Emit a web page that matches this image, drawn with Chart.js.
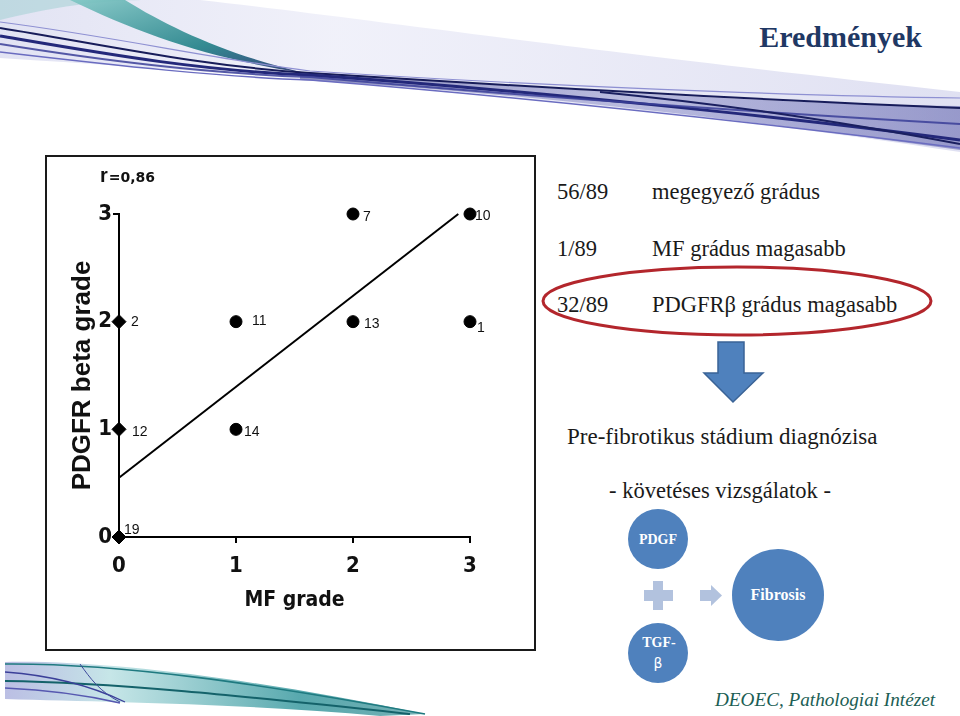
<!DOCTYPE html>
<html lang="hu">
<head>
  <meta charset="UTF-8" />
  <title>Eredmények</title>
  <script src="https://cdn.jsdelivr.net/npm/chart.js"></script>
  <style>
    html, body {
      margin: 0;
      padding: 0;
      background: #fff;
    }
    body {
      position: relative;
      width: 960px;
      height: 716px;
      overflow: hidden;
      font-family: 'Liberation Serif', 'DejaVu Serif', serif;
    }
    .deco {
      position: absolute;
      left: 0;
      top: 0;
    }
    .chart-frame {
      position: absolute;
      left: 45px;
      top: 155px;
      width: 487px;
      height: 492px;
      border: 2px solid #1a1a1a;
    }
    #corrChart {
      position: absolute;
      left: 46px;
      top: 156px;
    }
  </style>
</head>
<body>
  <!-- háttér díszítés + jobb oldali szöveg -->
  <svg class="deco" width="960" height="716" viewBox="0 0 960 716">
    <defs>
      <linearGradient id="haze" x1="0" y1="0" x2="1" y2="0">
        <stop offset="0" stop-color="#9fa3d8" stop-opacity="0.55" />
        <stop offset="0.35" stop-color="#c4c6ea" stop-opacity="0.45" />
        <stop offset="1" stop-color="#8d90d0" stop-opacity="0.5" />
      </linearGradient>
      <linearGradient id="tealStreak" x1="0" y1="0" x2="1" y2="1">
        <stop offset="0" stop-color="#7fc7c4" />
        <stop offset="0.6" stop-color="#1f7f86" />
        <stop offset="1" stop-color="#23306e" />
      </linearGradient>
      <linearGradient id="band" x1="0" y1="0" x2="1" y2="0">
        <stop offset="0" stop-color="#2a2f82" stop-opacity="0.9" />
        <stop offset="0.5" stop-color="#4b4fa8" stop-opacity="0.55" />
        <stop offset="1" stop-color="#3b3f99" stop-opacity="0.8" />
      </linearGradient>
      <linearGradient id="bottomBand" x1="0" y1="0" x2="1" y2="0">
        <stop offset="0" stop-color="#9ea3d8" stop-opacity="0.7" />
        <stop offset="0.25" stop-color="#b8e0e2" stop-opacity="0.8" />
        <stop offset="0.7" stop-color="#3b9aa0" stop-opacity="0.85" />
        <stop offset="1" stop-color="#1d7f86" stop-opacity="0.6" />
      </linearGradient>
    </defs>

    <!-- felső csík -->
    <path d="M0,0 L200,0 C360,18 560,48 960,92 L960,152 C700,112 420,84 0,58 Z" fill="url(#haze)" opacity="0.55" />
    <path d="M0,20 C80,0 130,0 150,0 L0,0 Z" fill="#a9d2d6" opacity="0.6" />
    <path d="M70,0 L125,0 C170,28 228,55 305,73 C215,60 140,34 70,0 Z" fill="url(#tealStreak)" opacity="0.9" />
    <path d="M300,72 C520,86 760,104 960,106 L960,150 C760,122 520,92 300,80 Z" fill="url(#band)" opacity="0.55" />
    <path d="M0,28 C100,44 200,66 310,73 C500,85 760,100 960,108" fill="none" stroke="#171c5a" stroke-width="2" />
    <path d="M0,36 C100,53 200,71 310,75 C520,90 780,116 960,140" fill="none" stroke="#23287a" stroke-width="3" />
    <path d="M0,44 C100,60 200,73 310,77 C500,94 720,110 960,124" fill="none" stroke="#3a3e98" stroke-width="2" opacity="0.85" />
    <path d="M0,52 C120,66 220,77 310,80 C560,100 800,128 960,148" fill="none" stroke="#6a6cc0" stroke-width="1.5" />
    <path d="M0,22 C110,36 220,60 310,71 C540,86 800,96 960,98" fill="none" stroke="#8e90d2" stroke-width="1.2" />
    <path d="M600,92 C720,104 820,118 960,144" fill="none" stroke="#1a1f60" stroke-width="2" />

    <!-- alsó csík -->
    <path d="M5,662 C110,660 260,680 425,714 L380,716 C250,704 110,702 5,699 Z" fill="url(#bottomBand)" />
    <path d="M5,664 C120,663 262,684 425,714" fill="none" stroke="#1f7a80" stroke-width="1.6" />
    <path d="M5,681 C110,682 250,697 410,714" fill="none" stroke="#14626a" stroke-width="2" />
    <path d="M5,672 C60,676 100,690 125,702" fill="none" stroke="#3b3f99" stroke-width="1.3" />
    <path d="M5,688 C50,690 90,696 120,703" fill="none" stroke="#5658b0" stroke-width="1.3" />
    <path d="M80,664 C90,678 100,692 120,702" fill="none" stroke="#3e4a9c" stroke-width="1" />

    <!-- cím -->
    <text x="922" y="47" text-anchor="end" font-family="'Liberation Serif', 'DejaVu Serif', serif" font-weight="bold" font-size="30" fill="#1f3864">Eredmények</text>

    <!-- jobb oldali szöveg -->
    <g font-family="'Liberation Serif', 'DejaVu Serif', serif" font-size="22.5" fill="#1a1a1a">
      <text x="557" y="199">56/89</text>
      <text x="652" y="199">megegyező grádus</text>
      <text x="557" y="256">1/89</text>
      <text x="652" y="256">MF grádus magasabb</text>
      <text x="557" y="312">32/89</text>
      <text x="652" y="312">PDGFRβ grádus magasabb</text>
      <text x="567" y="444" font-size="23">Pre-fibrotikus stádium diagnózisa</text>
      <text x="720" y="498" text-anchor="middle">- követéses vizsgálatok -</text>
    </g>
    <ellipse cx="737" cy="301" rx="194" ry="34" fill="none" stroke="#b3262c" stroke-width="3" />
    <polygon points="718,342 744,342 744,373 763,373 733,402 704,373 718,373" fill="#4f81bd" stroke="#3a6396" stroke-width="1.5" />

    <!-- kördiagram -->
    <circle cx="658" cy="539" r="30" fill="#4f81bd" />
    <circle cx="658" cy="653" r="30" fill="#4f81bd" />
    <circle cx="778" cy="595" r="46" fill="#4f81bd" />
    <rect x="653" y="581" width="10" height="29" fill="#b2c2de" />
    <rect x="644" y="590" width="29" height="11" fill="#b2c2de" />
    <rect x="700" y="590" width="11" height="11" fill="#b2c2de" />
    <polygon points="711,585 722,595.5 711,606" fill="#b2c2de" />
    <g font-family="'Liberation Serif', 'DejaVu Serif', serif" font-weight="bold" fill="#fff" text-anchor="middle">
      <text x="658" y="544" font-size="14">PDGF</text>
      <text x="778" y="600" font-size="16">Fibrosis</text>
      <text x="659" y="647" font-size="14">TGF-</text>
      <text x="658" y="668" font-size="14" font-weight="normal" font-family="'DejaVu Sans', sans-serif">β</text>
    </g>

    <text x="715" y="706" font-family="'Liberation Serif', 'DejaVu Serif', serif" font-style="italic" font-size="19" textLength="220" lengthAdjust="spacingAndGlyphs" fill="#1b5e54">DEOEC, Pathologiai Intézet</text>
  </svg>

  <div class="chart-frame"></div>
  <canvas id="corrChart" width="488" height="493"></canvas>

  <script>
    // MF grade vs PDGFR beta grade, esetek sorszámával
    const mfGrade = [0, 0, 0, 1, 1, 2, 2, 3, 3];
    const pdgfrGrade = [0, 1, 2, 1, 2, 2, 3, 2, 3];
    const caseIds = ['19', '12', '2', '14', '11', '13', '7', '1', '10'];

    // regressziós egyenes két végpontja
    const fitX = [0, 2.9];
    const fitY = [0.55, 3.0];

    const xTickValues = [0, 1, 2, 3];
    const yTickValues = [0, 1, 2, 3];
    const correlationText = '=0,86';

    // címkék eltolása a ponthoz képest (px)
    const labelNudge = {
      '19': [5, -7], '12': [13, 3], '2': [12, 0], '14': [8, 3], '11': [16, -1],
      '13': [11, 2], '7': [10, 3], '1': [7, 6], '10': [5, 2]
    };

    const tickFont = { family: '"Liberation Sans Narrow", "DejaVu Sans Condensed", Arial, sans-serif', size: 22, weight: 'bold' };

    const caseLabels = {
      id: 'caseLabels',
      afterDatasetsDraw(chart) {
        const ctx = chart.ctx;
        const meta = chart.getDatasetMeta(0);
        ctx.save();
        ctx.font = '14px Arial, "Liberation Sans", sans-serif';
        ctx.fillStyle = '#111';
        ctx.textBaseline = 'middle';
        ctx.textAlign = 'left';
        meta.data.forEach((pt, i) => {
          const nudge = labelNudge[caseIds[i]] || [10, 0];
          ctx.fillText(caseIds[i], pt.x + nudge[0], pt.y + nudge[1]);
        });

        // r=0,86 felirat a bal felső sarokban
        ctx.textBaseline = 'alphabetic';
        ctx.font = 'bold 20px Arial, "Liberation Sans", sans-serif';
        ctx.fillText('r', 54, 26);
        const rw = ctx.measureText('r').width;
        ctx.font = 'bold 14px "DejaVu Sans", Arial, sans-serif';
        ctx.fillText(correlationText, 54 + rw + 1, 26);
        ctx.restore();
      }
    };

    const ctx = document.getElementById('corrChart').getContext('2d');
    new Chart(ctx, {
      type: 'scatter',
      data: {
        datasets: [{
          data: mfGrade.map((x, i) => ({ x: x, y: pdgfrGrade[i] })),
          backgroundColor: '#000',
          borderColor: '#000',
          pointStyle: c => (c.raw && c.raw.x === 0 ? 'rectRot' : 'circle'),
          pointRadius: c => (c.raw && c.raw.x === 0 ? 7 : 6),
          clip: false
        }, {
          type: 'line',
          data: fitX.map((x, i) => ({ x: x, y: fitY[i] })),
          borderColor: '#000',
          borderWidth: 2,
          pointRadius: 0,
          fill: false,
          clip: false
        }]
      },
      options: {
        responsive: false,
        animation: false,
        layout: { padding: { left: 17, right: 64, top: 58, bottom: 32 } },
        plugins: {
          legend: { display: false },
          tooltip: { enabled: false }
        },
        scales: {
          x: {
            type: 'linear',
            min: 0,
            max: 3,
            afterBuildTicks: s => { s.ticks = xTickValues.map(v => ({ value: v })); },
            afterFit: s => { s.height = 80; },
            grid: { drawOnChartArea: false, drawTicks: true, tickLength: 6, color: '#000', lineWidth: 2 },
            border: { display: true, color: '#000', width: 2 },
            ticks: { font: tickFont, color: '#111', padding: 10 },
            title: {
              display: true,
              text: 'MF grade',
              color: '#111',
              font: { family: '"Liberation Sans Narrow", "DejaVu Sans Condensed", Arial, sans-serif', size: 21, weight: 'bold' },
              padding: { top: 4, bottom: 4 }
            }
          },
          y: {
            type: 'linear',
            min: 0,
            max: 3,
            afterBuildTicks: s => { s.ticks = yTickValues.map(v => ({ value: v })); },
            afterFit: s => { s.width = 56; },
            grid: { drawOnChartArea: false, drawTicks: true, tickLength: 6, color: '#000', lineWidth: 2 },
            border: { display: true, color: '#000', width: 2 },
            ticks: { font: tickFont, color: '#111', padding: 1 },
            title: {
              display: true,
              text: 'PDGFR beta grade',
              color: '#111',
              font: { family: 'Arial, "Liberation Sans", sans-serif', size: 26, weight: 'bold' },
              padding: { top: 4, bottom: 4 }
            }
          }
        }
      },
      plugins: [caseLabels]
    });
  </script>
</body>
</html>
